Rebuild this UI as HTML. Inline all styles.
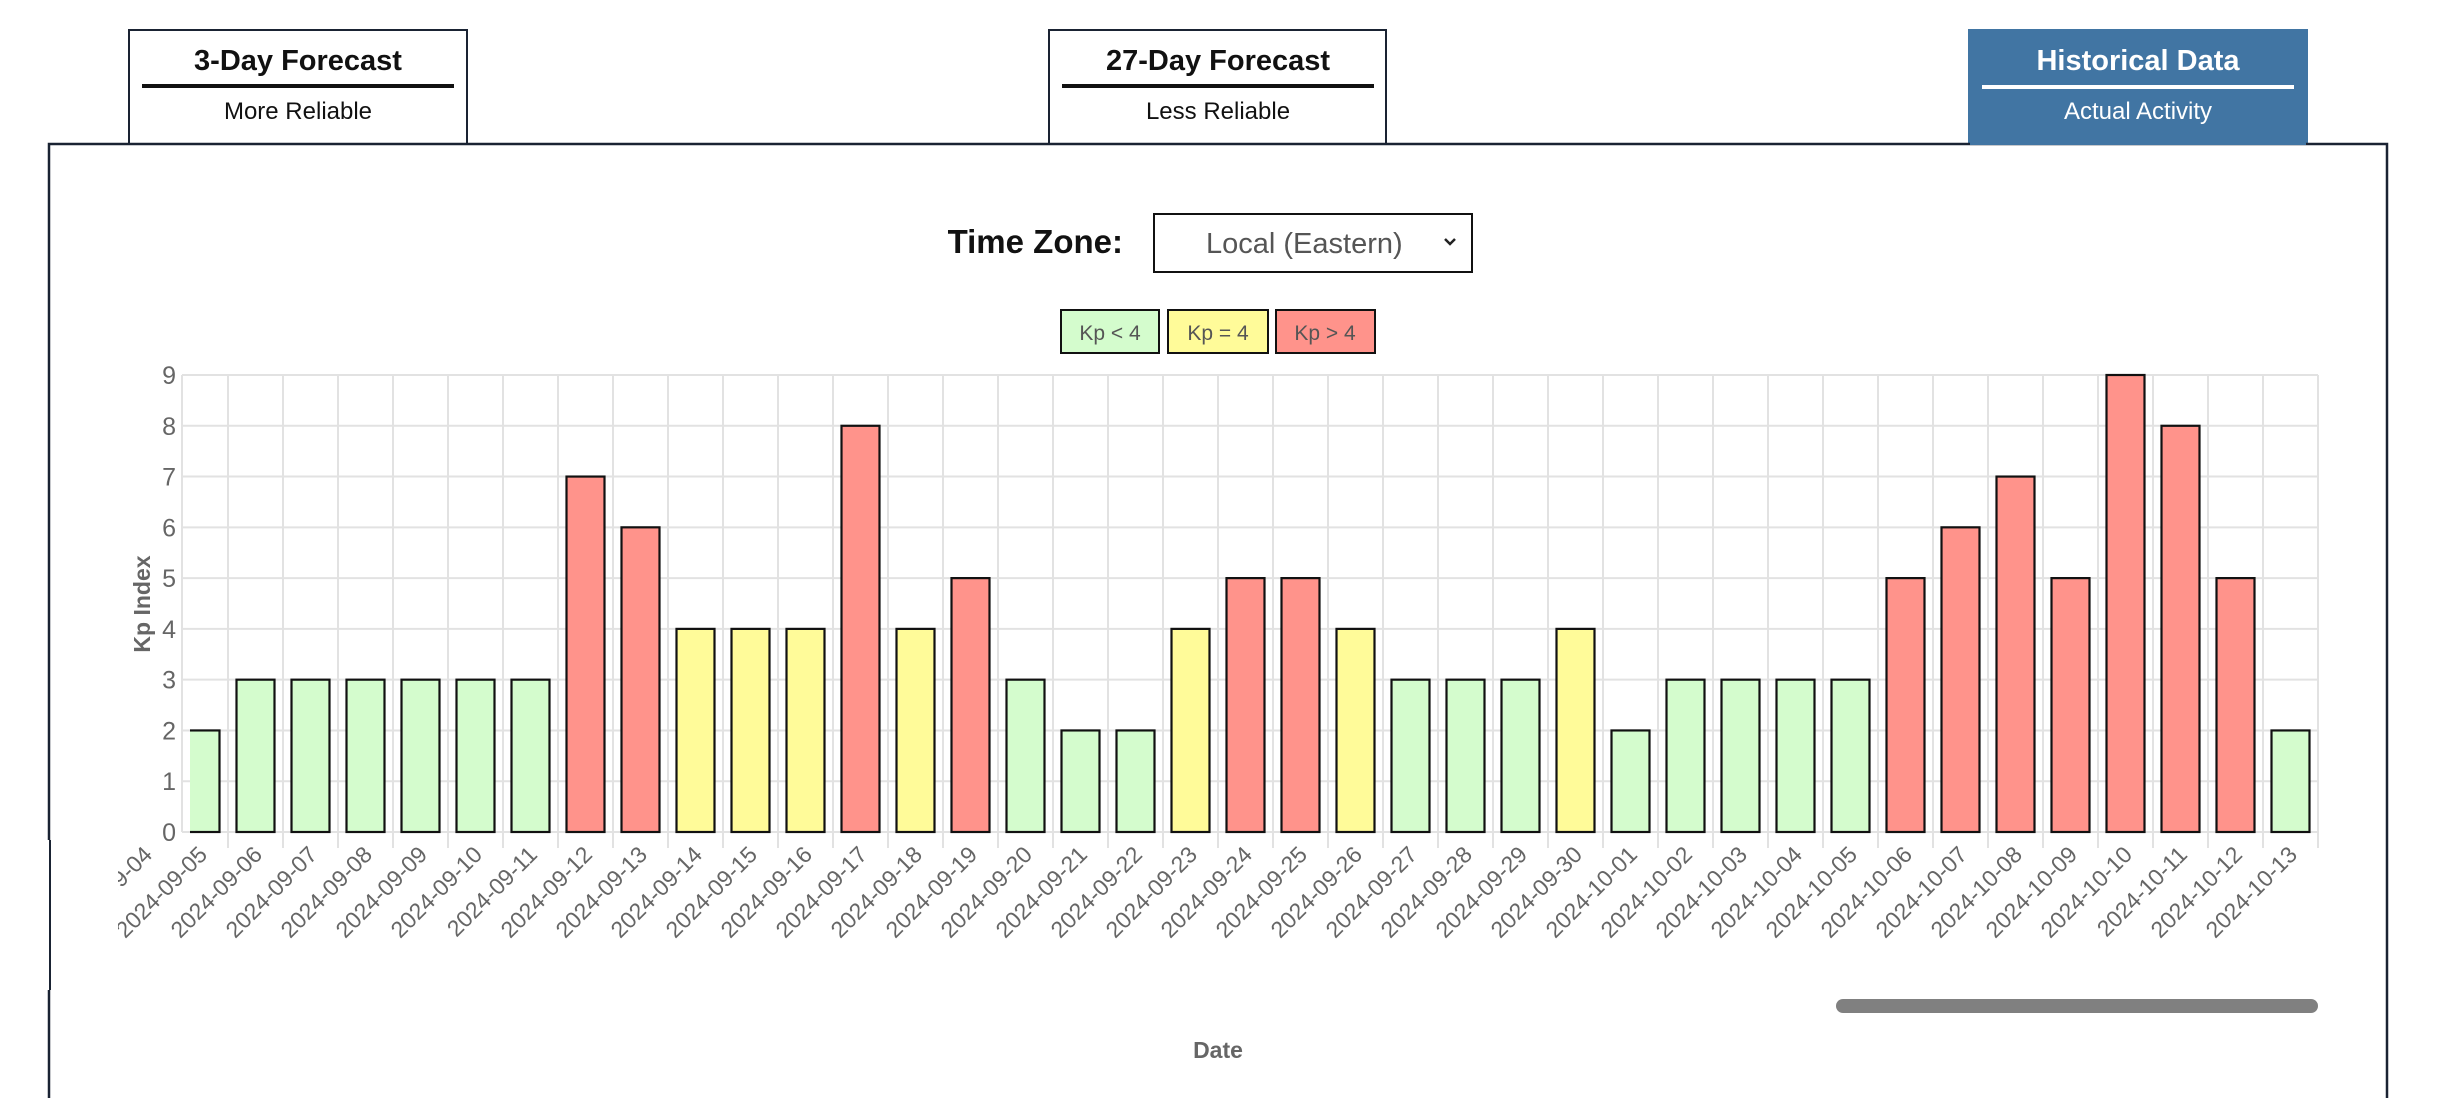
<!DOCTYPE html>
<html><head><meta charset="utf-8"><style>
html,body{margin:0;padding:0;background:#fff;width:2440px;height:1098px;overflow:hidden;font-family:"Liberation Sans",sans-serif}
svg{display:block}
</style></head><body>
<svg width="2440" height="1098" viewBox="0 0 2440 1098">
<g>
<rect x="129" y="30" width="338" height="116" fill="#fff" stroke="#1a2333" stroke-width="2"/>
<text x="298" y="70" text-anchor="middle" font-size="29" font-weight="bold" fill="#111">3-Day Forecast</text>
<rect x="142" y="84" width="312" height="4" fill="#111"/>
<text x="298" y="119" text-anchor="middle" font-size="24" fill="#111">More Reliable</text>
</g>
<g>
<rect x="1049" y="30" width="337" height="116" fill="#fff" stroke="#1a2333" stroke-width="2"/>
<text x="1218" y="70" text-anchor="middle" font-size="29" font-weight="bold" fill="#111">27-Day Forecast</text>
<rect x="1062" y="84" width="312" height="4" fill="#111"/>
<text x="1218" y="119" text-anchor="middle" font-size="24" fill="#111">Less Reliable</text>
</g>
<g>
<rect x="1968" y="29" width="340" height="117" fill="#4175a3"/>
<text x="2138" y="70" text-anchor="middle" font-size="29" font-weight="bold" fill="#fff">Historical Data</text>
<rect x="1982" y="85" width="312" height="4" fill="#fff"/>
<text x="2138" y="119" text-anchor="middle" font-size="24" fill="#fff">Actual Activity</text>
</g>
<rect x="49" y="144" width="2338" height="970" fill="#fff" stroke="#1a2333" stroke-width="2.5"/>
<rect x="1970" y="140" width="336" height="5" fill="#4175a3"/>
<text x="1123" y="253" text-anchor="end" font-size="33" font-weight="bold" fill="#111">Time Zone:</text>
<g>
<rect x="1154" y="214" width="318" height="58" fill="#fff" stroke="#111" stroke-width="2"/>
<text x="1206" y="253" font-size="29" fill="#555">Local (Eastern)</text>
<path d="M1445 239 l5 5 l5 -5" fill="none" stroke="#222" stroke-width="2.5"/>
</g>
<g>
<g><rect x="1061" y="310" width="98" height="43" fill="#d4fccd" stroke="#111" stroke-width="2"/><text x="1110" y="340" text-anchor="middle" font-size="21" fill="#555">Kp &lt; 4</text></g>
<g><rect x="1168" y="310" width="100" height="43" fill="#fffb99" stroke="#111" stroke-width="2"/><text x="1218" y="340" text-anchor="middle" font-size="21" fill="#555">Kp = 4</text></g>
<g><rect x="1276" y="310" width="99" height="43" fill="#ff938b" stroke="#111" stroke-width="2"/><text x="1325" y="340" text-anchor="middle" font-size="21" fill="#555">Kp &gt; 4</text></g>
</g>
<g id="chart"></g>
<text transform="translate(150,604) rotate(-90)" text-anchor="middle" font-size="23" font-weight="bold" fill="#666">Kp Index</text>
<text x="1218" y="1058" text-anchor="middle" font-size="23" font-weight="bold" fill="#666">Date</text>
<rect x="1836" y="999" width="482" height="14" rx="7" fill="#808080"/>
</svg>
<script>
const categories=["2024-09-04","2024-09-05","2024-09-06","2024-09-07","2024-09-08","2024-09-09","2024-09-10","2024-09-11","2024-09-12","2024-09-13","2024-09-14","2024-09-15","2024-09-16","2024-09-17","2024-09-18","2024-09-19","2024-09-20","2024-09-21","2024-09-22","2024-09-23","2024-09-24","2024-09-25","2024-09-26","2024-09-27","2024-09-28","2024-09-29","2024-09-30","2024-10-01","2024-10-02","2024-10-03","2024-10-04","2024-10-05","2024-10-06","2024-10-07","2024-10-08","2024-10-09","2024-10-10","2024-10-11","2024-10-12","2024-10-13"];
const kpValues=[4,2,3,3,3,3,3,3,7,6,4,4,4,8,4,5,3,2,2,4,5,5,4,3,3,3,4,2,3,3,3,3,5,6,7,5,9,8,5,2];
const yTicks=[0,1,2,3,4,5,6,7,8,9];
const NS="http://www.w3.org/2000/svg";
const g=document.getElementById('chart');
const L=190,R=2318,T=375,B=832,X0=118,yMax=9;
const step=(R-X0)/categories.length;
const xc=i=>X0+step*(i+0.5);
const y=v=>B-(v/yMax)*(B-T);
function mk(t,a){const e=document.createElementNS(NS,t);for(const k in a)e.setAttribute(k,a[k]);g.appendChild(e);return e;}
const defs=mk('defs',{});
const cp=document.createElementNS(NS,'clipPath');cp.setAttribute('id','pc');
const cr=document.createElementNS(NS,'rect');cr.setAttribute('x',L);cr.setAttribute('y',T-5);cr.setAttribute('width',R-L+2);cr.setAttribute('height',B-T+10);cp.appendChild(cr);defs.appendChild(cp);
yTicks.forEach(v=>{
  const l=mk('line',{x1:182,x2:R,y1:y(v),y2:y(v),stroke:'#e2e2e2','stroke-width':2});
  
  
  const t=mk('text',{x:176,y:y(v)+9,'text-anchor':'end','font-size':25,fill:'#666'});
  t.textContent=v;
  
  
});
for(let i=1;i<=categories.length;i++){
  const x=X0+step*i;
  if(x<L)continue;
  const l=mk('line',{x1:x,x2:x,y1:T,y2:B+16,stroke:'#e2e2e2','stroke-width':2});
  
  
}
mk('line',{x1:182,x2:182,y1:T,y2:B,stroke:'#e2e2e2','stroke-width':2});
function col(v){return v<4?'#d4fccd':(v===4?'#fffb99':'#ff938b');}
const bw=38;
const bars=mk('g',{'clip-path':'url(#pc)'});
kpValues.forEach((v,i)=>{
  const r=document.createElementNS(NS,'rect');
  r.setAttribute('x',xc(i)-bw/2);r.setAttribute('y',y(v));r.setAttribute('width',bw);r.setAttribute('height',B-y(v));
  r.setAttribute('fill',col(v));r.setAttribute('stroke','#111');r.setAttribute('stroke-width',2.2);
  
  
  bars.appendChild(r);
});
categories.forEach((c,i)=>{
  const x=xc(i)+8;
  const t=mk('text',{x:x,y:856,'text-anchor':'end','font-size':23,fill:'#666',transform:`rotate(-45 ${x} 856)`});
  t.textContent=c;
  
  
});
mk('rect',{x:0,y:840,width:118,height:150,fill:'#fff'});
mk('rect',{x:49,y:840,width:2,height:150,fill:'#1a2333'});
</script>
</body></html>
